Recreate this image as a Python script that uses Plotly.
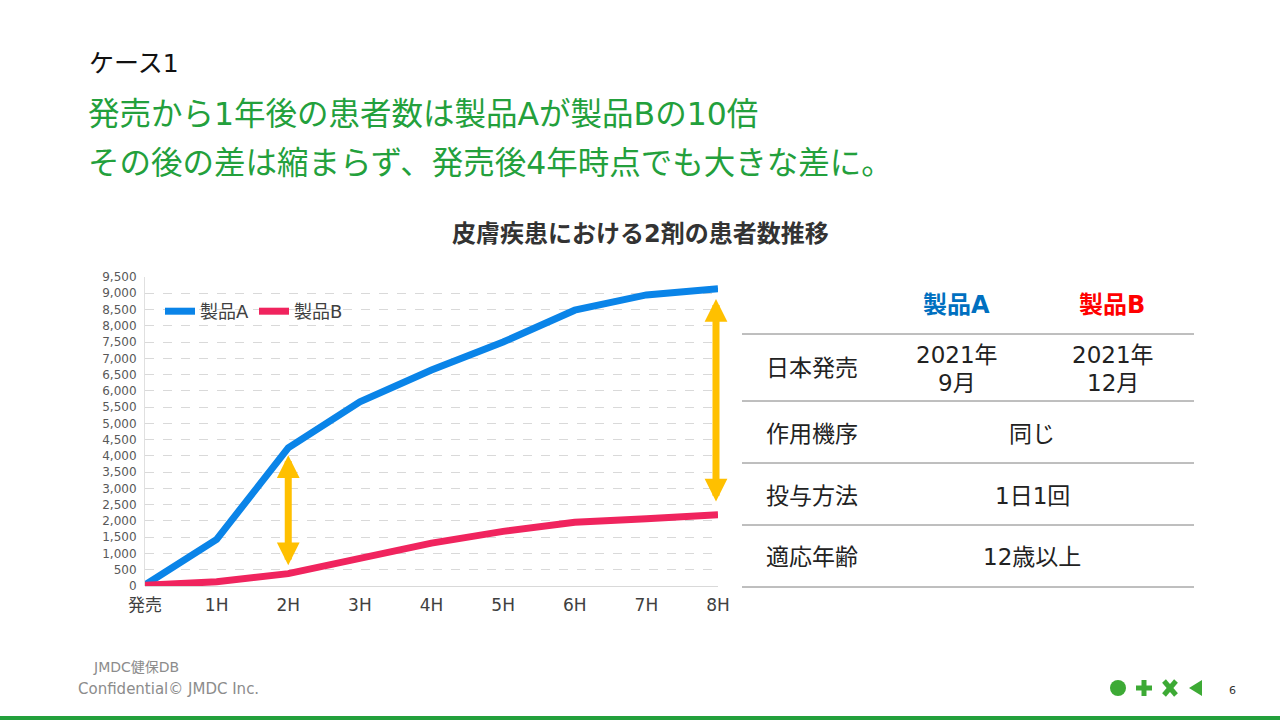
import plotly.graph_objects as go

categories = ["発売", "1H", "2H", "3H", "4H", "5H", "6H", "7H", "8H"]
product_a = [30, 1430, 4250, 5660, 6640, 7500, 8480, 8950, 9140]
product_b = [20, 130, 380, 860, 1320, 1680, 1960, 2070, 2190]
y_ticks = list(range(0, 9501, 500))
y_tick_labels = [f"{v:,}" for v in y_ticks]

# gap arrows: (category, lower value, upper value)
gap_arrows = [("2H", 590, 4020), ("8H", 2550, 8820)]

table_header = ["製品A", "製品B"]
table_rows = ["日本発売", "作用機序", "投与方法", "適応年齢"]
launch_a = ["2021年", "9月"]
launch_b = ["2021年", "12月"]
shared_values = ["同じ", "1日1回", "12歳以上"]

W, H = 1280, 720
L, R, T, B = 145, 718, 277, 586
FONT = "DejaVu Sans, Noto Sans CJK JP"
GREEN = "#23A03C"


def px(x):
    return (x - L) / (R - L)


def py(y):
    return (B - y) / (B - T)


def text_at(x, y, text, size, color, xanchor="center", bold=False):
    return dict(x=px(x), y=py(y), xref="paper", yref="paper",
                text=f"<b>{text}</b>" if bold else text,
                showarrow=False, xanchor=xanchor, yanchor="middle",
                font=dict(size=size, color=color, family=FONT))


fig = go.Figure()
fig.add_trace(go.Scatter(x=categories, y=product_a, mode="lines", name="製品A",
                         line=dict(color="#0A84E8", width=7)))
fig.add_trace(go.Scatter(x=categories, y=product_b, mode="lines", name="製品B",
                         line=dict(color="#F0245E", width=7)))

shapes = []
annotations = []

for cat, y0, y1 in gap_arrows:
    annotations.append(dict(x=cat, y=y1, ax=cat, ay=y0, xref="x", yref="y", axref="x", ayref="y",
                            xshift=-2 if cat == "8H" else 0,
                            showarrow=True, arrowhead=2, arrowside="end+start", arrowsize=0.65,
                            arrowwidth=7, arrowcolor="#FFC000", text=""))

# titles
annotations.append(text_at(87, 63, "ケース1", 25, "#111111", "left"))
annotations.append(text_at(86, 114, "発売から1年後の患者数は製品Aが製品Bの10倍", 31.5, GREEN, "left"))
annotations.append(text_at(86, 163, "その後の差は縮まらず、発売後4年時点でも大きな差に。", 31.5, GREEN, "left"))
annotations.append(text_at(640, 234, "皮膚疾患における2剤の患者数推移", 24, "#333333", bold=True))

# table
for yline in [334, 401, 463, 525, 587]:
    shapes.append(dict(type="line", xref="paper", yref="paper", x0=px(742), x1=px(1194),
                       y0=py(yline), y1=py(yline), line=dict(color="#7F7F7F", width=1)))
annotations.append(text_at(956, 305, table_header[0], 24, "#0070C0", bold=True))
annotations.append(text_at(1112, 305, table_header[1], 24, "#FF0000", bold=True))
row_y = [368, 434, 496, 557]
for label, yy in zip(table_rows, row_y):
    annotations.append(text_at(764, yy, label, 23, "#222222", "left"))
annotations.append(text_at(957, 355, launch_a[0], 23, "#222222"))
annotations.append(text_at(957, 383, launch_a[1], 23, "#222222"))
annotations.append(text_at(1113, 355, launch_b[0], 23, "#222222"))
annotations.append(text_at(1113, 383, launch_b[1], 23, "#222222"))
for val, yy in zip(shared_values, row_y[1:]):
    annotations.append(text_at(1032, yy, val, 23, "#222222"))

# footer
annotations.append(text_at(91, 667, "JMDC健保DB", 14, "#8C8C8C", "left"))
annotations.append(text_at(76, 689, "Confidential© JMDC Inc.", 15, "#8C8C8C", "left"))
annotations.append(text_at(1232, 690, "6", 11, "#333333"))
shapes.append(dict(type="rect", xref="paper", yref="paper", x0=px(0), x1=px(1280),
                   y0=py(720), y1=py(716), line=dict(width=0), fillcolor=GREEN))
ICON = "#3DAA35"
shapes.append(dict(type="circle", xref="paper", yref="paper", x0=px(1110), x1=px(1126),
                   y0=py(696), y1=py(680), line=dict(width=0), fillcolor=ICON))
shapes.append(dict(type="rect", xref="paper", yref="paper", x0=px(1136), x1=px(1152),
                   y0=py(690.5), y1=py(685.5), line=dict(width=0), fillcolor=ICON))
shapes.append(dict(type="rect", xref="paper", yref="paper", x0=px(1141.5), x1=px(1146.5),
                   y0=py(696), y1=py(680), line=dict(width=0), fillcolor=ICON))
for (xa, ya, xb, yb) in [(1164, 681, 1176, 695), (1164, 695, 1176, 681)]:
    shapes.append(dict(type="line", xref="paper", yref="paper", x0=px(xa), x1=px(xb),
                       y0=py(ya), y1=py(yb), line=dict(width=5, color=ICON)))
shapes.append(dict(type="path", xref="paper", yref="paper",
                   path=f"M {px(1189)} {py(688)} L {px(1202)} {py(680)} L {px(1202)} {py(696)} Z",
                   line=dict(width=0), fillcolor=ICON))

fig.update_layout(
    width=W, height=H,
    margin=dict(l=L, r=W - R, t=T, b=H - B),
    paper_bgcolor="white", plot_bgcolor="white",
    font=dict(family=FONT, color="#404040"),
    showlegend=True,
    legend=dict(orientation="h", x=px(160), y=py(293), xanchor="left", yanchor="top",
                font=dict(size=18, color="#404040", family=FONT), bgcolor="rgba(0,0,0,0)",
                itemwidth=30, tracegroupgap=0),
    shapes=shapes, annotations=annotations,
)
fig.update_xaxes(type="category", range=[0, 8], showgrid=False, showline=False,
                 ticks="", tickfont=dict(size=17, color="#404040", family=FONT),
                 ticklabelstandoff=7)
fig.update_yaxes(range=[0, 9500], tickvals=y_ticks, ticktext=y_tick_labels,
                 showgrid=True, gridcolor="#D9D9D9", griddash="dash", gridwidth=1,
                 zeroline=True, zerolinecolor="#D9D9D9", zerolinewidth=1,
                 showline=True, linecolor="#E0E0E0", linewidth=1,
                 tickfont=dict(size=12, color="#595959", family=FONT), ticks="",
                 ticklabelstandoff=5)

fig.write_html("out.html")
